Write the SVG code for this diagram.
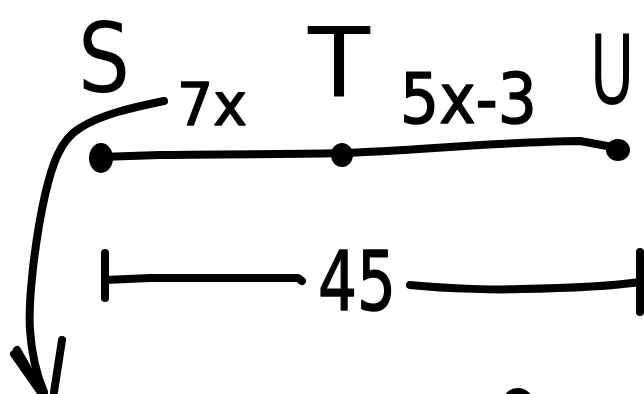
<svg xmlns="http://www.w3.org/2000/svg" width="644" height="394" viewBox="0 0 644 394">
<style>
.ink{fill:none;stroke:#000;stroke-width:8;stroke-linecap:round;stroke-linejoin:round}
.dot{fill:#000}
.lbl{font-family:"DejaVu Sans",sans-serif;fill:#000;stroke:#000;stroke-width:1.5;stroke-linejoin:round}
.big{font-family:"DejaVu Sans",sans-serif;fill:#000;font-size:96px}
</style>
<rect width="644" height="394" fill="#fff"/>
<g id="connectors">
<path class="ink" d="M100,157 L160,155 C200,154 260,155 343,153 C420,150 500,142 580,141 L618,148"/>
<path class="ink" d="M164,101 C130,108 100,115 80,128 C60,140 52,165 45,195 C35,240 28,300 30,330 C32,360 38,378 44,392"/>
<path class="ink" d="M14,354 L42,394 M17,350 L40,390 M62,340 L54,392"/>
<path class="ink" d="M105,253 V298 M105,280 L150,278 L298,278 L302,281"/>
<path class="ink" d="M410,285 C450,289 500,290 520,289 C580,288 620,285 640,282 M640,252 V312"/>
<text class="lbl" x="177" y="125" font-size="59" textLength="70" lengthAdjust="spacingAndGlyphs">7x</text>
<text class="lbl" x="400" y="123" font-size="70" textLength="137" lengthAdjust="spacingAndGlyphs">5x-3</text>
<text class="lbl" x="318" y="310" font-size="82" textLength="78" lengthAdjust="spacingAndGlyphs">45</text>
</g>
<g id="node-S">
<ellipse class="dot" cx="101" cy="158" rx="12" ry="15"/>
<text class="big" x="78" y="92" textLength="52" lengthAdjust="spacingAndGlyphs">S</text>
</g>
<g id="node-T">
<ellipse class="dot" cx="342" cy="155" rx="11" ry="12"/>
<text class="big" x="308" y="96" textLength="62" lengthAdjust="spacingAndGlyphs">T</text>
</g>
<g id="node-U">
<ellipse class="dot" cx="618" cy="150" rx="12" ry="11"/>
<text class="big" transform="translate(590,104) scale(0.63,1)" x="0" y="0">U</text>
</g>
<g id="node-bottom">
<circle class="dot" cx="518" cy="404" r="16"/>
</g>
</svg>
